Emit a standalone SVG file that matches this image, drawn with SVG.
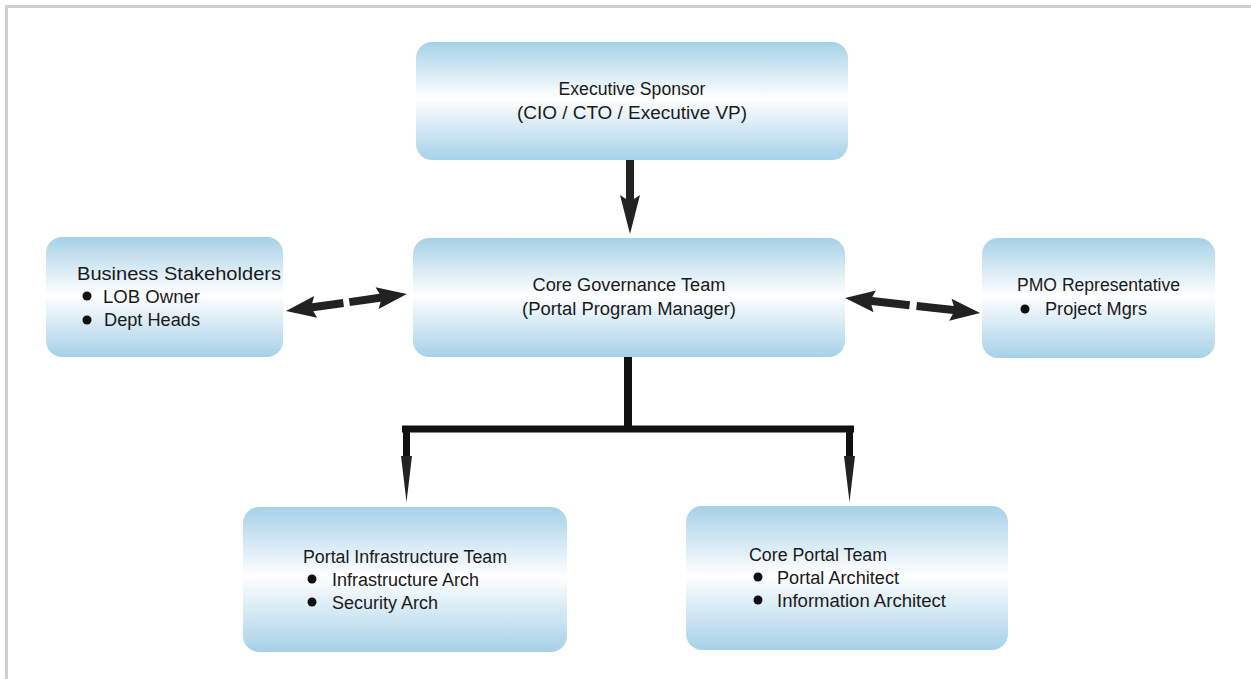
<svg xmlns="http://www.w3.org/2000/svg" width="1251" height="679" viewBox="0 0 1251 679">
<defs>
<linearGradient id="g" x1="0" y1="0" x2="0" y2="1">
<stop offset="0" stop-color="#a6d1e8"/>
<stop offset="0.48" stop-color="#ffffff"/>
<stop offset="1" stop-color="#a6d1e8"/>
</linearGradient>
</defs>
<style>
.box{fill:url(#g);}
.t{font-family:"Liberation Sans",Arial,sans-serif;font-size:18px;fill:#1a1a1a;}
.c{text-anchor:middle;}
.b{fill:#111;}
.ln{stroke:#111;fill:none;}
.ah{fill:#222;}
</style>
<rect x="6.5" y="6.5" width="1400" height="800" fill="none" stroke="#d0d0d0" stroke-width="3"/>

<g id="connectors">
<polygon class="ah" points="626,160 634,160 634,199 640,195 630,234 620,195 626,199"/>
<line class="ln" x1="628" y1="357" x2="628" y2="429" stroke-width="8"/>
<line class="ln" x1="402" y1="429" x2="854" y2="429" stroke-width="7"/>
<line class="ln" x1="406.5" y1="429" x2="406.5" y2="462" stroke-width="7"/>
<line class="ln" x1="849.5" y1="429" x2="849.5" y2="462" stroke-width="7"/>
<polygon class="ah" points="401,456 412,456 406.5,502"/>
<polygon class="ah" points="844,456 855,456 849.5,502"/>
<g transform="translate(286,311) rotate(-8)">
<polygon class="ah" points="0,0 30,-11 27,-4 58,-4 58,4 27,4 30,11"/>
<polygon class="ah" points="122,0 92,-11 95,-4 64,-4 64,4 95,4 92,11"/>
</g>
<g transform="translate(845,298) rotate(6.34)">
<polygon class="ah" points="0,0 30,-11 27,-4 65,-4 65,4 27,4 30,11"/>
<polygon class="ah" points="136,0 106,-11 109,-4 72,-4 72,4 109,4 106,11"/>
</g>
</g>

<g id="exec">
<rect class="box" x="416" y="42" width="432" height="118" rx="16"/>
<text class="t c" x="632" y="95" textLength="147" lengthAdjust="spacingAndGlyphs">Executive Sponsor</text>
<text class="t c" x="632" y="119" textLength="230" lengthAdjust="spacingAndGlyphs">(CIO / CTO / Executive VP)</text>
</g>

<g id="core-gov">
<rect class="box" x="413" y="238" width="432" height="119" rx="16"/>
<text class="t c" x="629" y="291" textLength="193" lengthAdjust="spacingAndGlyphs">Core Governance Team</text>
<text class="t c" x="629" y="315" textLength="214" lengthAdjust="spacingAndGlyphs">(Portal Program Manager)</text>
</g>

<g id="business">
<rect class="box" x="46" y="237" width="237" height="120" rx="16"/>
<text class="t" x="77" y="280" textLength="204" lengthAdjust="spacingAndGlyphs">Business Stakeholders</text>
<circle class="b" cx="87" cy="296" r="4.5"/>
<text class="t" x="103" y="303" textLength="97" lengthAdjust="spacingAndGlyphs">LOB Owner</text>
<circle class="b" cx="87" cy="320" r="4.5"/>
<text class="t" x="104" y="326" textLength="96" lengthAdjust="spacingAndGlyphs">Dept Heads</text>
</g>

<g id="pmo">
<rect class="box" x="982" y="238" width="233" height="120" rx="16"/>
<text class="t" x="1017" y="291" textLength="163" lengthAdjust="spacingAndGlyphs">PMO Representative</text>
<circle class="b" cx="1025" cy="309" r="4.5"/>
<text class="t" x="1045" y="315" textLength="102" lengthAdjust="spacingAndGlyphs">Project Mgrs</text>
</g>

<g id="infra">
<rect class="box" x="243" y="507" width="324" height="145" rx="16"/>
<text class="t" x="303" y="563" textLength="204" lengthAdjust="spacingAndGlyphs">Portal Infrastructure Team</text>
<circle class="b" cx="312" cy="579" r="4.5"/>
<text class="t" x="332" y="586" textLength="147" lengthAdjust="spacingAndGlyphs">Infrastructure Arch</text>
<circle class="b" cx="312" cy="602" r="4.5"/>
<text class="t" x="332" y="609" textLength="106" lengthAdjust="spacingAndGlyphs">Security Arch</text>
</g>

<g id="core-portal">
<rect class="box" x="686" y="506" width="322" height="144" rx="16"/>
<text class="t" x="749" y="561" textLength="138" lengthAdjust="spacingAndGlyphs">Core Portal Team</text>
<circle class="b" cx="758" cy="577" r="4.5"/>
<text class="t" x="777" y="584" textLength="122" lengthAdjust="spacingAndGlyphs">Portal Architect</text>
<circle class="b" cx="758" cy="600" r="4.5"/>
<text class="t" x="777" y="607" textLength="169" lengthAdjust="spacingAndGlyphs">Information Architect</text>
</g>
</svg>
